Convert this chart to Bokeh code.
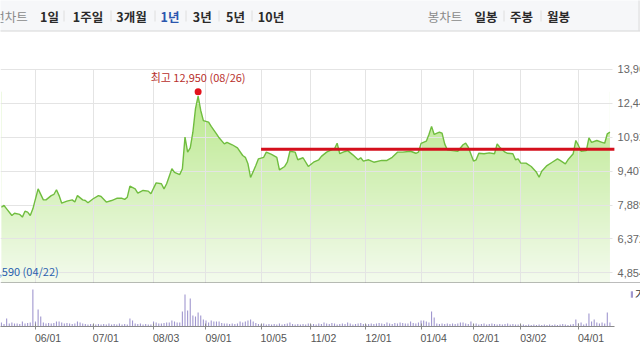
import numpy as np
from bokeh.plotting import figure
from bokeh.models import Range1d, FixedTicker, Legend, LegendItem, Span, LinearAxis
from bokeh.layouts import column
from bokeh.embed import file_html
from bokeh.resources import INLINE
from bokeh.core.properties import value

KR = "Noto Sans CJK KR"
NUM = "Liberation Sans"

# ---------------- data (trading-day index, 0 = 2020-06-01) ----------------
price_days = [-13, -12, -11, -9, -8, -6, -5, -4, -3, -2, -1, 1, 3, 4, 6, 7, 8, 9, 10, 12,
              14, 15, 16, 18, 19, 20, 22, 24, 25, 27, 29, 31, 33, 34, 35, 36, 38, 39, 41, 43,
              44, 46, 48, 49, 50, 52, 53, 55, 56, 57, 58, 59, 60, 61, 62, 63, 64, 66, 67, 69,
              70, 72, 73, 75, 77, 79, 80, 81, 82, 84, 85, 87, 88, 90, 92, 93, 95, 96, 97, 99,
              100, 102, 104, 106, 108, 109, 111, 113, 114, 115, 116, 118, 119, 121, 123, 124, 125, 127, 129, 132,
              134, 136, 138, 140, 143, 145, 146, 147, 149, 150, 151, 152, 154, 155, 156, 157, 159, 161, 163, 164,
              165, 167, 168, 169, 171, 173, 175, 176, 177, 179, 180, 182, 183, 184, 185, 187, 189, 191, 192, 193,
              195, 197, 199, 200, 202, 203, 205, 206, 207, 208, 210, 211, 212, 214, 216, 217, 218, 219]
price_close = [7790, 7870, 7720, 7420, 7520, 7470, 7350, 7610, 7570, 7420, 7720, 8610, 8120, 8120, 8310, 8360, 8570, 8310, 7970, 8060,
               8120, 8020, 8310, 8120, 8090, 7990, 8170, 8310, 8270, 8020, 8090, 8190, 8190, 8140, 8240, 8730, 8610, 8420, 8540, 8510,
               8390, 8880, 8840, 8610, 8840, 9510, 9350, 9250, 9510, 10920, 10250, 10440, 11140, 12190, 12750, 12110, 11660, 11590, 11400, 11070,
               10890, 10620, 10690, 10580, 10440, 10100, 10020, 9730, 9120, 9650, 9950, 10020, 10250, 10150, 10020, 9460, 9610, 9800, 10290, 10250,
               9910, 10000, 9610, 9800, 9910, 10060, 10250, 10360, 10400, 10650, 10180, 10280, 10320, 10130, 9910, 10000, 9850, 9910, 9800, 9880,
               9880, 10020, 10250, 10250, 10290, 10200, 10250, 10640, 10740, 11040, 11400, 11040, 11140, 11100, 10620, 10360, 10320, 10290, 10580, 10650,
               10470, 9850, 9910, 10200, 10180, 10220, 10180, 10620, 10470, 10250, 10200, 10180, 9910, 9950, 9760, 9760, 9610, 9350, 9130, 9400,
               9650, 9800, 9950, 9880, 9730, 9910, 10180, 10770, 10550, 10290, 10320, 10890, 10690, 10770, 10690, 10650, 11070, 11140]

peak_day = 62
peak_high = 12950
peak_label = "최고 12,950 (08/26)"
low_day = -25
low_price = 4590
low_label = "최저 4,590 (04/22)"

level_days = [86, 220.7]
level_price = 10380

y_ticks = [4854, 6372, 7889, 9407, 10925, 12442, 13960]
x_tick_days = [0, 22, 45, 65, 86, 105, 126, 147, 167, 185, 207]
x_tick_labels = ["06/01", "07/01", "08/03", "09/01", "10/05", "11/02",
                 "12/01", "01/04", "02/01", "03/02", "04/01"]

vol_days = list(range(-13, 220))
volume = [400, 250, 800, 300, 400, 300, 300, 250, 500, 300,
          350, 400, 3700, 500, 1700, 1000, 400, 300, 350, 300,
          350, 500, 500, 400, 300, 350, 300, 250, 300, 500,
          400, 300, 250, 200, 250, 200, 200, 250, 200, 250,
          200, 300, 200, 250, 200, 300, 200, 250, 200, 800,
          600, 300, 250, 300, 200, 250, 200, 200, 500, 400,
          300, 300, 350, 400, 400, 600, 500, 400, 400, 1500,
          3200, 1600, 2800, 1100, 1000, 1400, 1100, 700, 600, 400,
          600, 500, 500, 500, 350, 300, 300, 250, 300, 250,
          300, 500, 400, 500, 600, 700, 500, 350, 250, 200,
          300, 200, 250, 200, 250, 200, 300, 200, 250, 300,
          400, 250, 200, 250, 200, 250, 200, 300, 200, 250,
          200, 300, 250, 400, 300, 250, 350, 300, 200, 250,
          300, 250, 400, 300, 200, 250, 300, 350, 250, 200,
          250, 300, 250, 300, 350, 300, 250, 400, 300, 250,
          350, 300, 400, 350, 300, 300, 500, 350, 300, 400,
          600, 600, 500, 400, 1500, 900, 300, 250, 300, 250,
          300, 250, 300, 250, 300, 400, 400, 300, 250, 500,
          250, 300, 200, 250, 300, 200, 250, 300, 250, 200,
          250, 200, 250, 300, 200, 250, 200, 200, 150, 200,
          150, 200, 150, 200, 150, 200, 150, 200, 150, 200,
          150, 200, 150, 200, 250, 200, 150, 200, 250, 700,
          300, 400, 200, 300, 1300, 500, 700, 400, 300, 400,
          300, 1400, 400]
assert len(volume) == len(vol_days)

left_tabs = ["선차트", "1일", "1주일", "3개월", "1년", "3년", "5년", "10년"]
right_tabs = ["봉차트", "일봉", "주봉", "월봉"]

# ---------------- layout constants ----------------
W = 640
PX_PER_DAY = 2.623
X0 = -13.34
X1 = X0 + W / PX_PER_DAY
Y_TOP = 15146
Y_BOT = 4385
border_value = 4408
grid_end_day = 220
chart_end_day = 220.7
y_label_day = 221.9
label_shift_days = 4.8

x_range = Range1d(X0, X1)

# ---------------- header ----------------
hdr = figure(width=W, height=42, x_range=Range1d(0, 640), y_range=Range1d(42, 0),
             output_backend="svg", toolbar_location=None, x_axis_location=None,
             y_axis_location=None, min_border=0, outline_line_color=None)
hdr.grid.visible = False
hdr.quad(left=-10, right=650, top=-5, bottom=30.5, fill_color="#f6f7f9", line_color=None)
hdr.segment(x0=[-10], x1=[650], y0=[30.5], y1=[30.5], line_color="#d6d6d6", line_width=1)
hdr.segment(x0=[638.5], x1=[638.5], y0=[-5], y1=[30.5], line_color="#dcdcdc", line_width=1)
sep_x = [63.5, 110.5, 154.5, 185.5, 218.5, 251.5, 503.5, 540.5]
hdr.segment(x0=sep_x, x1=sep_x, y0=[10] * len(sep_x), y1=[21] * len(sep_x),
            line_color="#dedede", line_width=1)

tab_x_left = [10, 49, 87.5, 131, 169.5, 201.7, 235, 270.5]
tab_x_right = [444.5, 485.5, 521, 558]
hdr.text(x=[tab_x_left[0], tab_x_right[0]], y=[15.5, 15.5], text=[left_tabs[0], right_tabs[0]],
         text_font=value(KR), text_font_size="12.5px", text_color="#8a8a8a",
         text_align="center", text_baseline="middle")
dark_idx = [1, 2, 3, 5, 6, 7]
hdr.text(x=[tab_x_left[i] for i in dark_idx] + tab_x_right[1:],
         y=[15.5] * (len(dark_idx) + 3),
         text=[left_tabs[i] for i in dark_idx] + right_tabs[1:],
         text_font=value(KR), text_font_size="12.5px", text_font_style="bold",
         text_color="#2a2a2a", text_align="center", text_baseline="middle")
hdr.text(x=[tab_x_left[4]], y=[15.5], text=[left_tabs[4]],
         text_font=value(KR), text_font_size="12.5px", text_font_style="bold",
         text_color="#2b56ae", text_align="center", text_baseline="middle")

# ---------------- main price chart ----------------
main = figure(width=W, height=241, x_range=x_range, y_range=Range1d(Y_BOT, Y_TOP),
              output_backend="svg", toolbar_location=None, x_axis_location=None,
              y_axis_location=None, min_border=0, outline_line_color=None)

# vertical gradient fill under the price line
ny = 256
t = np.linspace(0.0, 1.0, ny)
top_rgb = np.array([0xb9, 0xe8, 0x8b], dtype=float)
bot_rgb = np.array([0xf4, 0xfb, 0xee], dtype=float)
rgb = bot_rgb[None, :] * (1 - t[:, None]) + top_rgb[None, :] * t[:, None]
img = np.empty((ny, 1), dtype=np.uint32)
view = img.view(dtype=np.uint8).reshape((ny, 1, 4))
view[:, 0, 0] = rgb[:, 0].astype(np.uint8)
view[:, 0, 1] = rgb[:, 1].astype(np.uint8)
view[:, 0, 2] = rgb[:, 2].astype(np.uint8)
view[:, 0, 3] = 255
main.image_rgba(image=[img], x=price_days[0], y=Y_BOT, dw=price_days[-1] - price_days[0],
                dh=peak_high - Y_BOT, level="image")
main.varea(x=price_days, y1=price_close, y2=Y_TOP, fill_color="white", level="image")

main.xgrid.ticker = FixedTicker(ticks=x_tick_days)
main.ygrid.ticker = FixedTicker(ticks=y_ticks)
main.grid.grid_line_color = "#e4e4e4"
main.grid.grid_line_width = 1
main.xgrid.cross_bounds = (Y_BOT, y_ticks[-1])
main.ygrid.cross_bounds = (X0, grid_end_day)

main.add_layout(Span(location=border_value, dimension="width", line_color="#7d7d7d", line_width=1))

main.line(price_days, price_close, line_color="#70bd3f", line_width=1.4)
main.line(level_days, [level_price, level_price], line_color="#d40f1c", line_width=3)

main.scatter([peak_day], [peak_high], size=7, fill_color="#e3121c", line_color=None)
main.text([peak_day], [peak_high], text=[peak_label], text_font=value(KR), text_font_size="11px",
          text_color="#b8302c", text_align="center", text_baseline="bottom", y_offset=-7)
main.text([low_day], [low_price], text=[low_label], text_font=value(KR), text_font_size="11px",
          text_color="#2a5fae", text_align="left", text_baseline="middle", y_offset=-8)

main.text([y_label_day] * len(y_ticks), y_ticks, text=[f"{v:,}" for v in y_ticks],
          text_font=value(NUM), text_font_size="11px", text_color="#666666",
          text_align="left", text_baseline="middle")

# ---------------- volume chart ----------------
vol = figure(width=W, height=77, x_range=x_range, y_range=Range1d(0, 4300),
             output_backend="svg", toolbar_location=None, y_axis_location=None,
             min_border=0, min_border_bottom=34, outline_line_color=None)
vol.grid.visible = False
vr = vol.vbar(x=vol_days, top=volume, width=0.42, fill_color="#a097cf", line_color=None)

# axis 1: baseline with tick marks crossing it
vol.xaxis.ticker = FixedTicker(ticks=x_tick_days)
vol.xaxis.bounds = (X0, chart_end_day)
vol.xaxis.major_label_overrides = {d: "" for d in x_tick_days}
vol.xaxis.major_label_text_font_size = "0px"
vol.xaxis.major_label_standoff = 0
vol.xaxis.axis_line_color = "#8a8a8a"
vol.xaxis.major_tick_line_color = "#8a8a8a"
vol.xaxis.major_tick_in = 3
vol.xaxis.major_tick_out = 3
vol.xaxis.minor_tick_line_color = None

# axis 2: date labels starting at each tick (left-aligned look)
label_pos = [d + label_shift_days for d in x_tick_days]
lab_axis = LinearAxis(ticker=FixedTicker(ticks=label_pos),
                      major_label_overrides={p: lab for p, lab in zip(label_pos, x_tick_labels)},
                      axis_line_color=None, major_tick_line_color=None, minor_tick_line_color=None,
                      major_tick_in=0, major_tick_out=0, major_label_standoff=2,
                      major_label_text_font=NUM, major_label_text_font_size="10.5px",
                      major_label_text_color="#555555")
vol.add_layout(lab_axis, "below")

leg = Legend(items=[LegendItem(label="거래량", renderers=[vr])], location=(630, 24),
             padding=0, margin=0, spacing=0, border_line_color=None, background_fill_alpha=0,
             glyph_width=3, glyph_height=8, label_standoff=2, label_height=9,
             label_text_font=KR, label_text_font_size="11px", label_text_color="#333333")
vol.add_layout(leg)

layout = column(hdr, main, vol, spacing=0)
open("out.html", "w").write(file_html(layout, INLINE, title="chart"))
